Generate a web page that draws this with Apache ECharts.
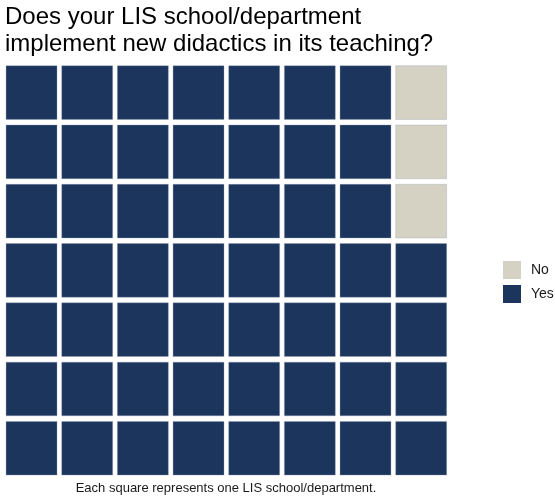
<!DOCTYPE html>
<html>
<head>
<meta charset="utf-8">
<script src="https://cdn.jsdelivr.net/npm/echarts@6/dist/echarts.min.js"></script>
<style>
  html, body { margin: 0; padding: 0; background: #fff; }
  #chart { width: 555px; height: 499px; }
</style>
</head>
<body>
<div id="chart"></div>
<script>
// Survey answers and how many schools gave each one
const categories = ["No", "Yes"];
const counts = [3, 53];
const colors = ["#d5d2c4", "#1c355d"];

// Waffle layout: 8 columns by 7 rows, one square per school
const nCols = 8;
const nRows = 7;
const colLabels = ["1", "2", "3", "4", "5", "6", "7", "8"];
const rowLabels = ["1", "2", "3", "4", "5", "6", "7"];

const titleLines = ["Does your LIS school/department", "implement new didactics in its teaching?"];
const caption = "Each square represents one LIS school/department.";

// Squares fill column by column from the bottom-left; "Yes" first, then "No"
const fillOrder = ["Yes", "No"];
const cellsByCategory = {};
let k = 0;
fillOrder.forEach(function (name) {
  const n = counts[categories.indexOf(name)];
  cellsByCategory[name] = [];
  for (let i = 0; i < n; i++, k++) {
    const col = Math.floor(k / nRows);
    const row = k % nRows;
    cellsByCategory[name].push([col, row]);
  }
});

function renderTile(params, api) {
  const c = api.coord([api.value(0), api.value(1)]);
  const size = api.size([1, 1]);
  const w = size[0] - 4.7;
  const h = size[1] - 5.6;
  return {
    type: "rect",
    shape: { x: c[0] - w / 2, y: c[1] - h / 2, width: w, height: h },
    style: { fill: api.visual("color"), stroke: "rgba(150,160,180,0.35)", lineWidth: 1 }
  };
}

const font = "Liberation Sans, Arial, sans-serif";
const chart = echarts.init(document.getElementById("chart"));
chart.setOption({
  animation: false,
  title: [
    {
      text: titleLines.join("\n"),
      left: 5,
      top: 4,
      padding: 0,
      textStyle: { fontFamily: font, fontSize: 24, fontWeight: "normal", color: "#000", lineHeight: 27 }
    },
    {
      text: caption,
      left: 226,
      top: 482,
      padding: 0,
      textAlign: "center",
      textStyle: { fontFamily: font, fontSize: 13, fontWeight: "normal", color: "#1a1a1a" }
    }
  ],
  legend: {
    orient: "vertical",
    left: 498,
    top: 256,
    itemWidth: 18,
    itemHeight: 18,
    itemGap: 6,
    icon: "rect",
    data: categories,
    textStyle: { fontFamily: font, fontSize: 14, color: "#1a1a1a", padding: [0, 0, 0, 5] }
  },
  grid: { left: 3.7, top: 62.9, width: 445.3, height: 415, containLabel: false },
  xAxis: { type: "category", data: colLabels, show: false },
  yAxis: { type: "category", data: rowLabels, show: false },
  series: categories.map(function (name, i) {
    return {
      name: name,
      type: "custom",
      color: colors[i],
      renderItem: renderTile,
      encode: { x: 0, y: 1 },
      data: cellsByCategory[name]
    };
  })
});
</script>
</body>
</html>
